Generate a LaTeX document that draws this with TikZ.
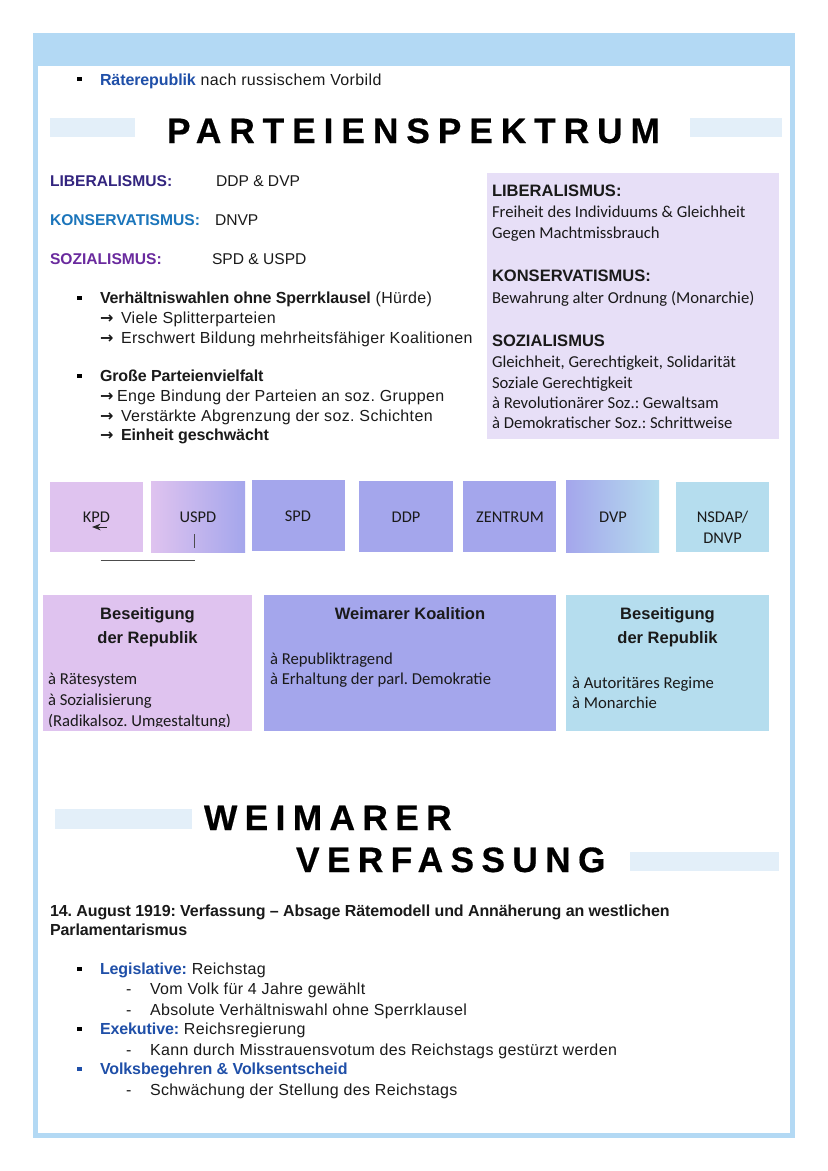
\documentclass[tikz,border=0pt]{standalone}
\usepackage{fontspec}
\setmainfont[LetterSpace=2.3,BoldFeatures={LetterSpace=-0.6}]{Liberation Sans}
\newfontfamily\carl{Carlito}
\newfontfamily\lib{Liberation Sans}
\newfontfamily\dejav{DejaVu Sans}
\newfontfamily\titlefont[LetterSpace=22.4,FakeBold=0.5]{Liberation Sans Bold}
\newfontfamily\titlefontb[LetterSpace=20.8,FakeBold=0.5]{Liberation Sans Bold}
\usetikzlibrary{arrows.meta}
\definecolor{frame}{HTML}{B3D9F4}
\definecolor{stripe}{HTML}{E3EFF9}
\definecolor{lav}{HTML}{E7DFF7}
\definecolor{pinkv}{HTML}{DFC3EF}
\definecolor{perI}{HTML}{A4A6EC}
\definecolor{skyb}{HTML}{B5DDEE}
\definecolor{blu}{HTML}{1F4FA8}
\definecolor{navyv}{HTML}{33257F}
\definecolor{ceru}{HTML}{1B75BB}
\definecolor{purp}{HTML}{6A2A9E}
\definecolor{ink}{HTML}{1A1A1A}
\tikzset{
 x=0.75pt,y=-0.75pt,
 lbl/.style={anchor=base west,inner sep=0pt,outer sep=0pt,text=ink},
 body/.style={lbl,font=\fontsize{12}{14}\selectfont},
 tag/.style={lbl,font=\lib\bfseries\fontsize{11.7}{14}\selectfont},
 tagval/.style={lbl,font=\lib\fontsize{11.7}{14}\selectfont},
 small/.style={lbl,font=\carl\fontsize{12.5}{15}\selectfont},
 head/.style={lbl,font=\lib\bfseries\fontsize{12.4}{15}\selectfont},
 ctr/.style={anchor=base,inner sep=0pt,outer sep=0pt,text=ink,align=center},
 party/.style={ctr,font=\carl\fontsize{12.3}{15.3}\selectfont},
 boxhead/.style={ctr,font=\lib\bfseries\fontsize{12.4}{18}\selectfont},
 bigt/.style={lbl,font=\titlefont\fontsize{26.5}{30}\selectfont,text=black},
 bigtb/.style={lbl,font=\titlefontb\fontsize{26.5}{30}\selectfont,text=black},
 bul/.style={anchor=center,inner sep=0pt,minimum size=3.4pt,fill=#1},
 bul/.default=black,
 thinl/.style={draw=black!70,line width=0.5pt}
}
\newcommand{\bx}[5]{\path[fill=#5] (#1,#2) rectangle (#3,#4);}
\newcommand{\arw}[1]{\makebox[#1][l]{\dejav\bfseries\fontsize{12}{14}\selectfont →}}
\begin{document}
\frenchspacing
\begin{tikzpicture}
\useasboundingbox (0,0) rectangle (828,1171);
\fill[white] (0,0) rectangle (828,1171);
% frame
\fill[frame] (33,33) rectangle (795,66);
\draw[frame,line width=3.2pt] (35.5,35) rectangle (792.5,1135.5);
% stripes
\bx{50}{118}{135}{137}{stripe}
\bx{690}{118}{782}{137}{stripe}
\bx{55}{809}{192}{829}{stripe}
\bx{630}{852}{779}{871}{stripe}
% top
\node[bul] (b0) at (79.5,79) {};
\node[body] (t0) at (100,85) {\textcolor{blu}{\bfseries Räterepublik} nach russischem Vorbild};
\node[bigt] (title1) at (167,143) {PARTEIENSPEKTRUM};
% left
\node[tag,text=navyv] (l1) at (50,186) {LIBERALISMUS:};
\node[tagval] (l1b) at (216,186) {DDP \& DVP};
\node[tag,text=ceru] (l2) at (50,225) {KONSERVATISMUS:};
\node[tagval] (l2b) at (215,225) {DNVP};
\node[tag,text=purp] (l3) at (50,264) {SOZIALISMUS:};
\node[tagval] (l3b) at (212,264) {SPD \& USPD};
\node[bul] (b1) at (79.5,298) {};
\node[body] (p1) at (100,303) {\textbf{Verhältniswahlen ohne Sperrklausel} (Hürde)};
\node[body] (p2) at (100,323) {\arw{15.75pt}Viele Splitterparteien};
\node[body] (p3) at (100,343) {\arw{15.75pt}Erschwert Bildung mehrheitsfähiger Koalitionen};
\node[bul] (b2) at (79.5,376) {};
\node[body] (p4) at (100,381) {\textbf{Große Parteienvielfalt}};
\node[body] (p5) at (100,401) {\arw{12.75pt}Enge Bindung der Parteien an soz. Gruppen};
\node[body] (p6) at (100,421) {\arw{15.75pt}Verstärkte Abgrenzung der soz. Schichten};
\node[body] (p7) at (100,440) {\arw{15.75pt}\textbf{Einheit geschwächt}};
% right box
\bx{487}{173}{779}{439}{lav}
\node[head] (h1) at (492,196) {LIBERALISMUS:};
\node[small] (r1) at (492,217) {Freiheit des Individuums \& Gleichheit};
\node[small] (r2) at (492,238) {Gegen Machtmissbrauch};
\node[head] (h2) at (492,281) {KONSERVATISMUS:};
\node[small] (r3) at (492,303) {Bewahrung alter Ordnung (Monarchie)};
\node[head] (h3) at (492,346) {SOZIALISMUS};
\node[small] (r4) at (492,367) {Gleichheit, Gerechtigkeit, Solidarität};
\node[small] (r5) at (492,388) {Soziale Gerechtigkeit};
\node[small] (r6) at (492,408) {à Revolutionärer Soz.: Gewaltsam};
\node[small] (r7) at (492,428) {à Demokratischer Soz.: Schrittweise};
% party boxes
\bx{50}{482}{143}{552}{pinkv}
\path[left color=pinkv,right color=perI] (151,481) rectangle (245,552);
\bx{252}{480}{345}{551}{perI}
\bx{359}{481}{453}{552}{perI}
\bx{463}{481}{556}{552}{perI}
\path[left color=perI,right color=skyb] (566,480) rectangle (659,552);
\bx{676}{482}{769}{552}{skyb}
\node[party] (kpd) at (96.5,522) {KPD};
\node[party] (uspd) at (198,522) {USPD};
\node[party] (spd) at (298,521) {SPD};
\node[party] (ddp) at (406,522) {DDP};
\node[party] (zen) at (510,522) {ZENTRUM};
\node[party] (dvp) at (613,522) {DVP};
\node[party] (nsd) at (722.5,543) {NSDAP/\\DNVP};
\coordinate (a1) at (107,527);
\coordinate (a2) at (92,527);
\coordinate (v1) at (194.5,534);
\coordinate (v2) at (194.5,548);
\coordinate (h1a) at (100.5,560.5);
\coordinate (h1b) at (195,560.5);
\draw[draw=black!85,line width=0.7pt,-{Stealth[length=6.5pt,width=5pt]}] (a1) -- (a2);
\draw[thinl] (v1) -- (v2);
\draw[thinl] (h1a) -- (h1b);
% big boxes
\bx{43}{595}{252}{731}{pinkv}
\bx{264}{595}{556}{731}{perI}
\bx{566}{595}{769}{731}{skyb}
\node[boxhead] (bh1) at (147.5,643) {Beseitigung\\der Republik};
\node[boxhead] (bh2) at (410,619) {Weimarer Koalition};
\node[boxhead] (bh3) at (667.5,643) {Beseitigung\\der Republik};
\node[small] (c1) at (48,684) {à Rätesystem};
\node[small] (c2) at (48,705) {à Sozialisierung};
\begin{scope}
\clip (43,700) rectangle (252,726.5);
\node[small] (c3) at (48,726) {(Radikalsoz. Umgestaltung)};
\end{scope}
\node[small] (d1) at (270,664) {à Republiktragend};
\node[small] (d2) at (270,684) {à Erhaltung der parl. Demokratie};
\node[small] (e1) at (572,688) {à Autoritäres Regime};
\node[small] (e2) at (572,708) {à Monarchie};
% second title
\node[bigtb] (title2) at (204,830) {WEIMARER};
\node[bigtb] (title3) at (296,872) {VERFASSUNG};
% bottom
\node[body] (v0) at (50,916) {\textbf{14. August 1919: Verfassung – Absage Rätemodell und Annäherung an westlichen}};
\node[body] (v00) at (50,935) {\textbf{Parlamentarismus}};
\node[bul] (b3) at (79.5,969) {};
\node[body] (q1) at (100,974) {\textcolor{blu}{\bfseries Legislative:} Reichstag};
\node[body] (q1d) at (126,994) {-};
\node[body] (q2) at (150,994) {Vom Volk für 4 Jahre gewählt};
\node[body] (q3d) at (126,1015) {-};
\node[body] (q3) at (150,1015) {Absolute Verhältniswahl ohne Sperrklausel};
\node[bul] (b4) at (79.5,1029) {};
\node[body] (q4) at (100,1034) {\textcolor{blu}{\bfseries Exekutive:} Reichsregierung};
\node[body] (q5d) at (126,1055) {-};
\node[body] (q5) at (150,1055) {Kann durch Misstrauensvotum des Reichstags gestürzt werden};
\node[bul=blu] (b5) at (79.5,1069) {};
\node[body] (q6) at (100,1074) {\textcolor{blu}{\bfseries Volksbegehren \& Volksentscheid}};
\node[body] (q7d) at (126,1095) {-};
\node[body] (q7) at (150,1095) {Schwächung der Stellung des Reichstags};
\end{tikzpicture}
\end{document}
